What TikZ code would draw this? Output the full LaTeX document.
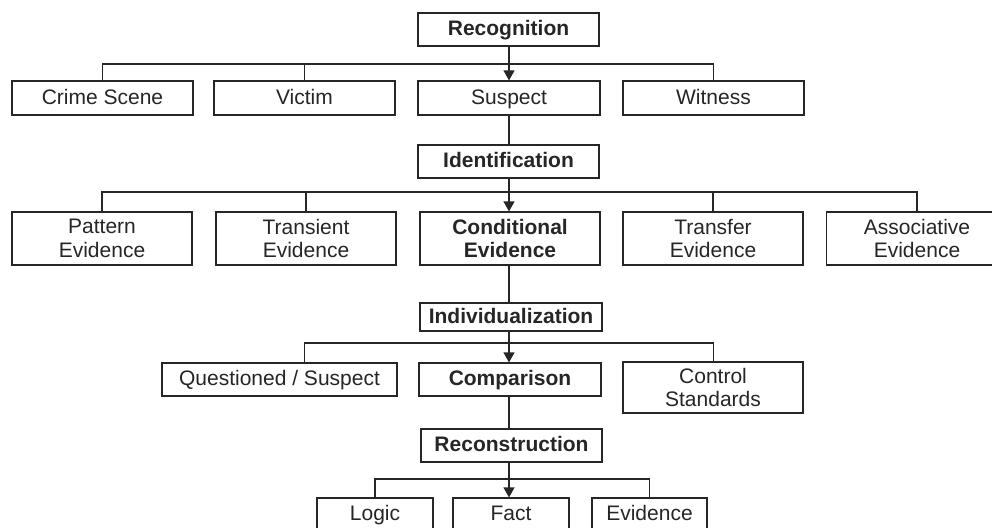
\documentclass[tikz,border=0pt]{standalone}
\usepackage{fontspec}
\setmainfont{Liberation Sans}
\usetikzlibrary{arrows.meta}
\definecolor{ink}{HTML}{262626}
\tikzset{
  box/.style={draw=ink, line width=1.2pt, text=ink, inner sep=0pt, align=center,
    font=\fontsize{21}{23.5}\selectfont, minimum height=33pt},
  bbox/.style={box, font=\fontsize{21}{23.5}\selectfont\bfseries},
  one/.style={text height=16pt, text depth=4pt},
  conn/.style={draw=ink, line width=1.2pt},
  arr/.style={conn, -{Triangle[length=10pt,width=11pt]}},
}
\begin{document}
\begin{tikzpicture}[x=1pt,y=-1pt]
\path[use as bounding box] (0,0) rectangle (992,527);
\fill[white] (0,0) rectangle (992,527);
\clip (0,0) rectangle (992,527);
% level 1
\node[bbox, one, minimum width=181pt] (rec) at (508.5,29.5) {Recognition};
\node[box, one, minimum width=181pt, minimum height=34pt] (cs) at (102.5,98) {Crime Scene};
\node[box, one, minimum width=181pt, minimum height=34pt] (vic) at (304.5,98) {Victim};
\node[box, one, minimum width=182pt, minimum height=34pt] (sus) at (509,98) {Suspect};
\node[box, one, minimum width=181pt, minimum height=34pt] (wit) at (713.5,98) {Witness};
\coordinate (bus1) at (509,64);
% level 2
\node[bbox, one, minimum width=181pt] (ide) at (508.5,161.5) {Identification};
\node[box, minimum width=180pt, minimum height=53pt] (pat) at (102,238.5) {Pattern\\Evidence};
\node[box, minimum width=180pt, minimum height=53pt] (tra) at (306,238.5) {Transient\\Evidence};
\node[bbox, minimum width=180pt, minimum height=53pt] (con) at (510,238.5) {Conditional\\Evidence};
\node[box, minimum width=180pt, minimum height=53pt] (trf) at (713,238.5) {Transfer\\Evidence};
\node[box, minimum width=181pt, minimum height=53pt] (ass) at (917,238.5) {Associative\\Evidence};
\coordinate (bus2) at (509,192);
% level 3
\node[bbox, one, minimum width=182pt, minimum height=28pt] (ind) at (511,317) {Individualization};
\node[box, one, minimum width=235pt] (que) at (279.5,379.5) {Questioned / Suspect};
\node[bbox, one, minimum width=182pt] (com) at (510,379.5) {Comparison};
\node[box, minimum width=180pt, minimum height=51pt] (ctl) at (713,387.5) {Control\\Standards};
\coordinate (bus3) at (509,343);
% level 4
\node[bbox, one, minimum width=181pt] (rcn) at (511.5,445.5) {Reconstruction};
\node[box, one, minimum width=116pt] (log) at (375,514.5) {Logic};
\node[box, one, minimum width=116pt] (fac) at (511,514.5) {Fact};
\node[box, one, minimum width=115pt] (evi) at (649.5,514.5) {Evidence};
\coordinate (bus4) at (509,479);
% connectors level 1
\draw[conn] (cs.north) |- (bus1) -| (wit.north);
\draw[conn] (vic.north) -- (vic.north |- bus1);
\draw[arr] (rec.south -| bus1) -- (bus1 |- sus.north);
\draw[conn] (sus.south -| bus1) -- (bus1 |- ide.north);
% level 2
\draw[conn] (pat.north) |- (bus2) -| (ass.north);
\draw[conn] (tra.north) -- (tra.north |- bus2);
\draw[conn] (trf.north) -- (trf.north |- bus2);
\draw[arr] (ide.south -| bus2) -- (bus2 |- con.north);
\draw[conn] (con.south -| bus2) -- (bus2 |- ind.north);
% level 3
\draw[conn] (vic |- que.north) |- (bus3) -| (wit |- ctl.north);
\draw[arr] (ind.south -| bus3) -- (bus3 |- com.north);
\draw[conn] (com.south -| bus3) -- (bus3 |- rcn.north);
% level 4
\draw[conn] (log.north) |- (bus4) -| (evi.north);
\draw[arr] (rcn.south -| bus4) -- (bus4 |- fac.north);
\end{tikzpicture}
\end{document}
